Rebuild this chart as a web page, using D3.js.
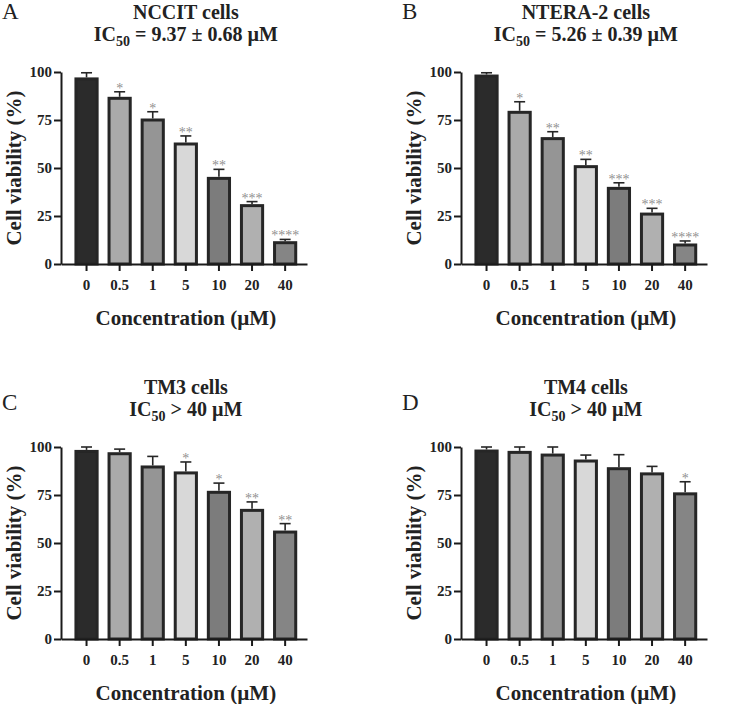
<!DOCTYPE html>
<html lang="en">
<head>
    <meta charset="UTF-8">
    <title>Cell viability</title>
    <script src="https://d3js.org/d3.v7.min.js"></script>
    <style>
        body {margin: 0; background: white;}
        text {font-family: "Liberation Serif", "Times New Roman", serif;}
        .axis path, .axis line {stroke: #1a1a1a; stroke-width: 2;}
        .axis text {font-size: 15px; font-weight: bold; fill: #222;}
        .title {font-size: 20px; font-weight: bold; fill: #222;}
        .axis-title {font-size: 21px; font-weight: bold; fill: #222;}
        .letter {font-size: 23px; fill: #222;}
        .bar {stroke: #262626; stroke-width: 3;}
        .err {stroke: #262626; stroke-width: 1.6;}
        .sig {font-size: 14px; fill: #909090;}
    </style>
</head>
<body>
<script>
    const width = 741;
    const height = 704;

    // concentrations (µM)
    const concentrations = ["0", "0.5", "1", "5", "10", "20", "40"];

    const nccitMean = [96.4, 86.3, 75.0, 62.5, 44.6, 30.4, 11.1];
    const nccitErr  = [3.2, 3.4, 4.3, 4.2, 4.7, 2.1, 1.7];
    const nccitSig  = ["", "*", "*", "**", "**", "***", "****"];

    const nteraMean = [97.9, 79.0, 65.3, 50.7, 39.4, 26.0, 9.9];
    const nteraErr  = [1.7, 5.5, 3.6, 3.8, 2.9, 3.0, 2.1];
    const nteraSig  = ["", "*", "**", "**", "***", "***", "****"];

    const tm3Mean = [97.7, 96.5, 89.6, 86.5, 76.4, 67.0, 55.7];
    const tm3Err  = [2.3, 2.4, 5.5, 5.7, 4.8, 4.4, 4.4];
    const tm3Sig  = ["", "", "", "*", "*", "**", "**"];

    const tm4Mean = [97.9, 97.2, 95.8, 92.7, 88.7, 86.0, 75.6];
    const tm4Err  = [2.1, 2.8, 4.2, 3.1, 7.3, 3.9, 6.3];
    const tm4Sig  = ["", "", "", "", "", "", "*"];

    const yTicks = [0, 25, 50, 75, 100];

    const barColors = ["#2b2b2b", "#aaaaaa", "#959595", "#d8d8d8", "#7c7c7c", "#b0b0b0", "#858585"];

    const panels = [
        {letter: "A", cell: "NCCIT cells", ic: " = 9.37 ± 0.68 µM", mean: nccitMean, err: nccitErr, sig: nccitSig, ox: 0, oy: 0, ly: 19},
        {letter: "B", cell: "NTERA-2 cells", ic: " = 5.26 ± 0.39 µM", mean: nteraMean, err: nteraErr, sig: nteraSig, ox: 400, oy: 0, ly: 19},
        {letter: "C", cell: "TM3 cells", ic: " > 40 µM", mean: tm3Mean, err: tm3Err, sig: tm3Sig, ox: 0, oy: 375, ly: 35},
        {letter: "D", cell: "TM4 cells", ic: " > 40 µM", mean: tm4Mean, err: tm4Err, sig: tm4Sig, ox: 400, oy: 375, ly: 35}
    ];

    const svg = d3.select("body").append("svg")
            .attr("width", width).attr("height", height);

    // local panel geometry
    const axisX = 61, xEnd = 307, yTop = 72, yBot = 264;

    const x = d3.scaleBand()
            .domain(concentrations)
            .range([axisX, xEnd])
            .paddingInner(0.36)
            .paddingOuter(0.396)
            .align(0.57);

    const y = d3.scaleLinear()
            .domain([0, 100])
            .range([yBot, yTop]);

    const cx = (x(concentrations[0]) + x(concentrations[6]) + x.bandwidth()) / 2;

    panels.forEach(drawPanel);

    function drawPanel(p) {
        const g = svg.append("g").attr("transform", `translate(${p.ox},${p.oy})`);
        const rows = concentrations.map((c, i) => ({c: c, v: p.mean[i], e: p.err[i], s: p.sig[i], i: i}));

        g.append("text").attr("class", "letter")
                .attr("x", 2).attr("y", p.ly)
                .text(p.letter);

        g.append("text").attr("class", "title")
                .attr("x", cx).attr("y", 18.5)
                .attr("text-anchor", "middle")
                .text(p.cell);

        const t2 = g.append("text").attr("class", "title")
                .attr("x", cx).attr("y", 41)
                .attr("text-anchor", "middle");
        t2.append("tspan").text("IC");
        t2.append("tspan").attr("font-size", 14).attr("dy", 5).text("50");
        t2.append("tspan").attr("dy", -5).text(p.ic);

        // bars
        g.selectAll("rect.bar")
                .data(rows).enter()
                .append("rect").attr("class", "bar")
                .attr("x", d => x(d.c))
                .attr("y", d => y(d.v))
                .attr("width", x.bandwidth())
                .attr("height", d => y(0) - y(d.v))
                .style("fill", d => barColors[d.i]);

        // error bars (upper only)
        const eb = g.selectAll("g.err")
                .data(rows).enter()
                .append("g");
        eb.append("line").attr("class", "err")
                .attr("x1", d => x(d.c) + x.bandwidth() / 2)
                .attr("x2", d => x(d.c) + x.bandwidth() / 2)
                .attr("y1", d => y(d.v) - 1.5)
                .attr("y2", d => y(d.v + d.e));
        eb.append("line").attr("class", "err")
                .attr("x1", d => x(d.c) + x.bandwidth() / 2 - 5.5)
                .attr("x2", d => x(d.c) + x.bandwidth() / 2 + 5.5)
                .attr("y1", d => y(d.v + d.e))
                .attr("y2", d => y(d.v + d.e));

        // significance stars
        g.selectAll("text.sig")
                .data(rows.filter(d => d.s)).enter()
                .append("text").attr("class", "sig")
                .attr("x", d => x(d.c) + x.bandwidth() / 2)
                .attr("y", d => y(d.v + d.e) + 1)
                .attr("text-anchor", "middle")
                .text(d => d.s);

        // axes
        g.append("g").attr("class", "axis")
                .attr("transform", `translate(${axisX},0)`)
                .call(d3.axisLeft(y).tickValues(yTicks).tickSize(7).tickSizeOuter(0).tickPadding(2));

        g.append("g").attr("class", "axis")
                .attr("transform", `translate(0,${yBot})`)
                .call(d3.axisBottom(x).tickSize(7).tickSizeOuter(0).tickPadding(8));

        g.append("text").attr("class", "axis-title")
                .attr("transform", `translate(21,${(yTop + yBot) / 2}) rotate(-90)`)
                .attr("text-anchor", "middle")
                .text("Cell viability (%)");

        g.append("text").attr("class", "axis-title")
                .attr("x", cx).attr("y", yBot + 61)
                .attr("text-anchor", "middle")
                .text("Concentration (µM)");
    }
</script>
</body>
</html>
